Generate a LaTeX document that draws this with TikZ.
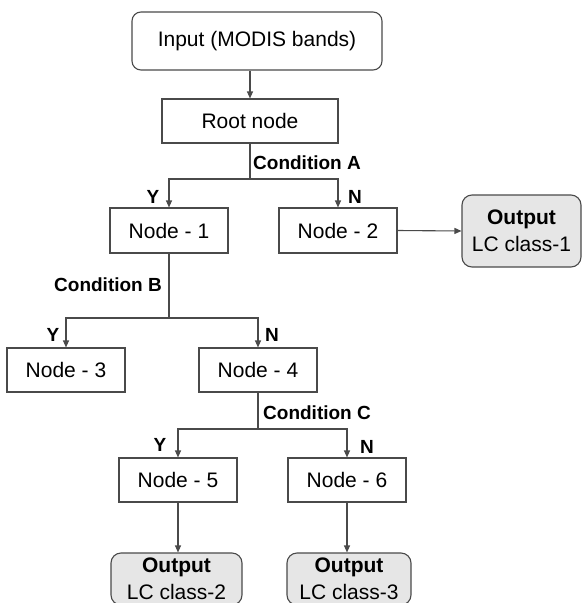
\documentclass[tikz,border=0pt]{standalone}
\usepackage{fontspec}
\setmainfont{Liberation Sans}
\usetikzlibrary{arrows.meta}
\definecolor{linec}{HTML}{4A4A4A}
\definecolor{outfill}{HTML}{E6E6E6}
\tikzset{
  box/.style={draw=linec, line width=1.1pt, fill=white, inner sep=0pt, font=\fontsize{21}{25}\selectfont, text=black},
  stepbox/.style={box, minimum width=118pt, minimum height=44pt},
  outbox/.style={box, fill=outfill, rounded corners=10pt, align=center, font=\fontsize{21}{27}\selectfont},
  conn/.style={draw=linec, line width=1.1pt},
  arr/.style={conn, -{Triangle[length=7pt,width=6pt]}},
  lab/.style={font=\fontsize{19}{22}\selectfont\bfseries, inner sep=0pt, text=black},
}
\begin{document}
\begin{tikzpicture}[x=1pt,y=-1pt]
\useasboundingbox (0,0) rectangle (582,603);
\node[box, rounded corners=9pt, minimum width=250pt, minimum height=58pt] (inp) at (257,41) {Input (MODIS bands)};
\node[box, minimum width=176pt, minimum height=44pt] (root) at (250,121) {Root node};
\node[stepbox, minimum height=45pt] (n1) at (169,230.5) {Node - 1};
\node[stepbox, minimum height=45pt] (n2) at (338,230.5) {Node - 2};
\node[outbox, minimum width=119pt, minimum height=72pt] (o1) at (521.5,231) {\textbf{Output}\\LC class-1};
\node[stepbox] (n3) at (66,370) {Node - 3};
\node[stepbox] (n4) at (258,370) {Node - 4};
\node[stepbox] (n5) at (178,480) {Node - 5};
\node[stepbox] (n6) at (347,480) {Node - 6};
\node[outbox, minimum width=131pt, minimum height=52pt] (o2) at (176.5,579) {\textbf{Output}\\LC class-2};
\node[outbox, minimum width=124pt, minimum height=52pt] (o3) at (349,579) {\textbf{Output}\\LC class-3};

\coordinate (cA) at (250,179);
\coordinate (cB) at (169,318);
\coordinate (cC) at (258,429);

\draw[arr] (root.north |- inp.south) -- (root.north);
\draw[conn] (root.south) -- (cA);
\draw[arr] (cA) -| (n1.north);
\draw[arr] (cA) -| (n2.north);
\draw[arr] (n2.east) -- (o1.west);
\draw[conn] (n1.south) -- (cB);
\draw[arr] (cB) -| (n3.north);
\draw[arr] (cB) -| (n4.north);
\draw[conn] (n4.south) -- (cC);
\draw[arr] (cC) -| (n5.north);
\draw[arr] (cC) -| (n6.north);
\draw[arr] (n5.south) -- (n5.south |- o2.north);
\draw[arr] (n6.south) -- (n6.south |- o3.north);

\node[lab, anchor=west] (lA) at (253,163) {Condition A};
\node[lab] (yA) at (153,197) {Y};
\node[lab] (nA) at (355,197) {N};
\node[lab] (lB) at (108,285) {Condition B};
\node[lab] (yB) at (53,335) {Y};
\node[lab] (nB) at (272,335) {N};
\node[lab, anchor=west] (lC) at (263,413) {Condition C};
\node[lab] (yC) at (160,445) {Y};
\node[lab] (nC) at (367,447) {N};
\end{tikzpicture}
\end{document}
